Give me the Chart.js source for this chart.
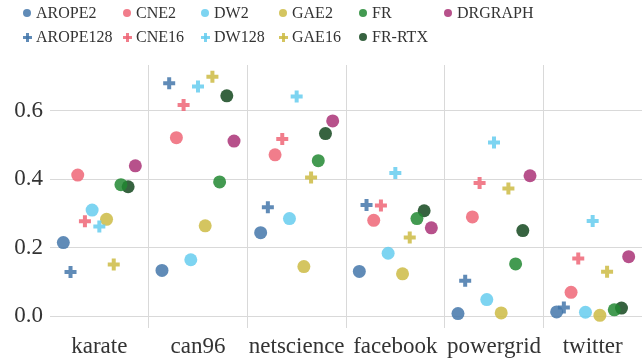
<!DOCTYPE html>
<html>
<head>
<meta charset="utf-8">
<script src="https://cdn.jsdelivr.net/npm/chart.js@4/dist/chart.umd.min.js"></script>
<style>
  html, body { margin: 0; padding: 0; background: #fff; }
  #wrap { position: relative; width: 642px; height: 360px; }
  #legend { position: absolute; left: 0; top: 0; width: 642px; height: 60px; font-family: "Liberation Serif", serif; font-size: 16px; color: #333; }
  .item { position: absolute; height: 20px; line-height: 20px; white-space: nowrap; }
  .mk { position: absolute; top: 6px; width: 8px; height: 8px; }
  .dot { border-radius: 50%; }
  .crs::before, .crs::after { content: ""; position: absolute; background: var(--c); }
  .crs::before { left: 0; top: 3px; width: 9px; height: 3px; }
  .crs::after { left: 3px; top: 0; width: 3px; height: 9px; }
  .lbl { position: absolute; left: 13px; top: 0; }
</style>
</head>
<body>
<div id="wrap">
  <canvas id="c"></canvas>
  <div id="legend"></div>
</div>
<script>
const categories = ["karate", "can96", "netscience", "facebook", "powergrid", "twitter"];
const yTicks = [0.0, 0.2, 0.4, 0.6];

const AROPE2   = [0.215, 0.134, 0.244, 0.131, 0.008, 0.013];
const AROPE128 = [0.129, 0.680, 0.318, 0.325, 0.104, 0.026];
const CNE2     = [0.412, 0.521, 0.471, 0.280, 0.290, 0.070];
const CNE16    = [0.277, 0.616, 0.517, 0.323, 0.389, 0.169];
const DW2      = [0.310, 0.165, 0.285, 0.184, 0.049, 0.012];
const DW128    = [0.262, 0.670, 0.641, 0.418, 0.507, 0.278];
const GAE2     = [0.283, 0.264, 0.145, 0.124, 0.010, 0.003];
const GAE16    = [0.151, 0.699, 0.405, 0.230, 0.373, 0.130];
const FR       = [0.384, 0.392, 0.454, 0.285, 0.153, 0.019];
const FR_RTX   = [0.378, 0.643, 0.533, 0.308, 0.250, 0.024];
const DRGRAPH  = [0.439, 0.511, 0.570, 0.258, 0.410, 0.174];

// series in dodge order
const series = [
  { name: "AROPE2",   values: AROPE2,   color: "rgba(68,119,170,0.85)",  style: "circle" },
  { name: "AROPE128", values: AROPE128, color: "rgba(68,119,170,0.85)",  style: "cross" },
  { name: "CNE2",     values: CNE2,     color: "rgba(238,102,119,0.85)", style: "circle" },
  { name: "CNE16",    values: CNE16,    color: "rgba(238,102,119,0.85)", style: "cross" },
  { name: "DW2",      values: DW2,      color: "rgba(102,204,238,0.85)", style: "circle" },
  { name: "DW128",    values: DW128,    color: "rgba(102,204,238,0.85)", style: "cross" },
  { name: "GAE2",     values: GAE2,     color: "rgba(204,187,68,0.85)",  style: "circle" },
  { name: "GAE16",    values: GAE16,    color: "rgba(204,187,68,0.85)",  style: "cross" },
  { name: "FR",       values: FR,       color: "rgba(34,136,51,0.85)",   style: "circle" },
  { name: "FR-RTX",   values: FR_RTX,   color: "rgba(20,72,30,0.85)",    style: "circle" },
  { name: "DRGRAPH",  values: DRGRAPH,  color: "rgba(170,51,119,0.85)",  style: "circle" }
];

const step = 0.073;
const datasets = series.map((s, k) => ({
  label: s.name,
  data: s.values.map((v, i) => ({ x: i + (k - 5) * step, y: v })),
  pointStyle: s.style,
  pointRadius: s.style === "cross" ? 6 : 6.5,
  pointHoverRadius: s.style === "cross" ? 6 : 6.5,
  pointBackgroundColor: s.color,
  pointBorderColor: s.color,
  pointBorderWidth: s.style === "cross" ? 4 : 0,
  showLine: false
}));

// HTML legend
const legendLayout = [
  ["AROPE2", 23, 3], ["CNE2", 123, 3], ["DW2", 201, 3], ["GAE2", 279, 3], ["FR", 359, 3], ["DRGRAPH", 444, 3],
  ["AROPE128", 23, 27], ["CNE16", 123, 27], ["DW128", 201, 27], ["GAE16", 279, 27], ["FR-RTX", 359, 27]
];
const legendEl = document.getElementById("legend");
legendLayout.forEach(([name, x, y]) => {
  const s = series.find(z => z.name === name);
  const it = document.createElement("div");
  it.className = "item";
  it.style.left = x + "px";
  it.style.top = y + "px";
  const mk = document.createElement("div");
  if (s.style === "circle") { mk.className = "mk dot"; mk.style.background = s.color; }
  else { mk.className = "mk crs"; mk.style.setProperty("--c", s.color); }
  const lb = document.createElement("span");
  lb.className = "lbl";
  lb.textContent = name;
  it.appendChild(mk); it.appendChild(lb);
  legendEl.appendChild(it);
});

const font = { family: "'Liberation Serif', serif", size: 23 };

new Chart(document.getElementById("c"), {
  type: "scatter",
  data: { datasets },
  options: {
    responsive: true,
    maintainAspectRatio: false,
    animation: false,
    layout: { autoPadding: false, padding: { top: 65, left: 0, right: 0, bottom: 0 } },
    plugins: { legend: { display: false }, tooltip: { enabled: false } },
    scales: {
      x: {
        type: "linear",
        min: -0.5,
        max: categories.length - 0.5,
        afterBuildTicks: (scale) => {
          const t = [];
          for (let v = -0.5; v <= categories.length - 0.5 + 1e-9; v += 0.5) t.push({ value: v });
          scale.ticks = t;
        },
        afterFit: (scale) => { scale.height = 32; scale.paddingLeft = 0; scale.paddingRight = 0; },
        ticks: {
          autoSkip: false,
          maxRotation: 0,
          padding: 5,
          color: "#333",
          font,
          callback: (v) => Number.isInteger(v) ? categories[v] : ""
        },
        grid: {
          drawTicks: false,
          tickLength: 0,
          lineWidth: 1,
          color: (ctx) => {
            const v = ctx.tick ? ctx.tick.value : 0;
            if (Number.isInteger(v) || v <= -0.5 || v >= categories.length - 0.5) return "rgba(0,0,0,0)";
            return "#d9d9d9";
          }
        },
        border: { display: false }
      },
      y: {
        min: -0.034,
        max: 0.733,
        afterBuildTicks: (scale) => { scale.ticks = yTicks.map(v => ({ value: v })); },
        afterFit: (scale) => { scale.width = 50; scale.paddingTop = 0; scale.paddingBottom = 0; },
        ticks: {
          padding: 7,
          color: "#333",
          font,
          callback: (v) => v.toFixed(1)
        },
        grid: { drawTicks: false, tickLength: 0, color: "#d9d9d9", lineWidth: 1 },
        border: { display: false }
      }
    }
  }
});
</script>
</body>
</html>
